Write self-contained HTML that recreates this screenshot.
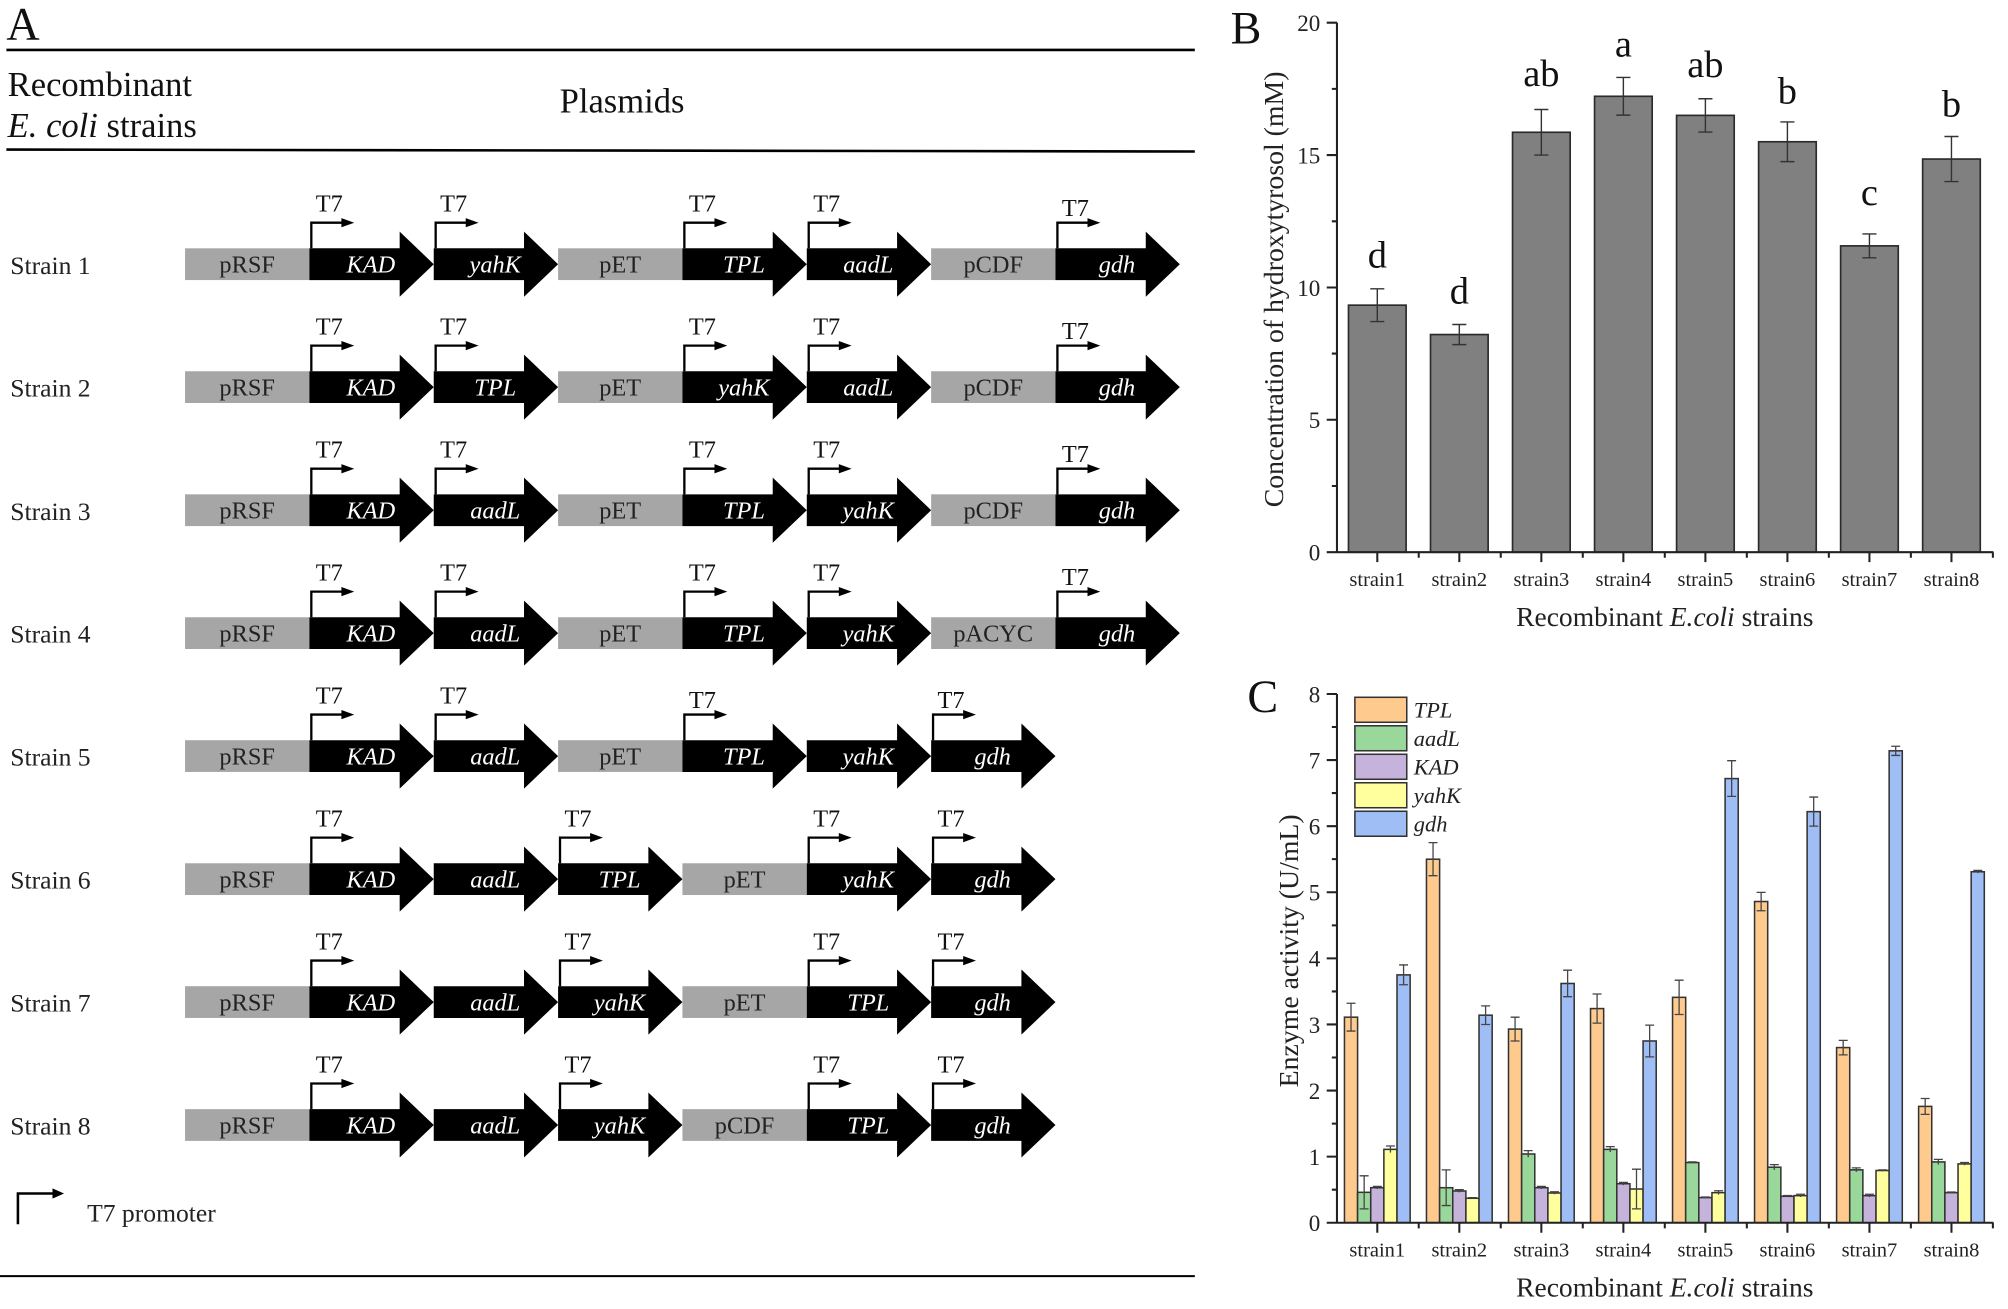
<!DOCTYPE html>
<html><head><meta charset="utf-8">
<style>
html,body{margin:0;padding:0;background:#fff;overflow:hidden;}
svg{display:block;}
text{font-family:"Liberation Serif","Times New Roman",serif;}
.pl{font-size:19px;fill:#222;text-anchor:middle;}
.gn{font-size:19px;fill:#fff;font-style:italic;text-anchor:middle;}
.t7{font-size:19px;fill:#111;}
.sl{font-size:20px;fill:#222;}
.tk{font-size:18px;fill:#222;text-anchor:end;}
.xl{font-size:16px;fill:#222;text-anchor:middle;}
.lt{font-size:30px;fill:#111;text-anchor:middle;}
.lg{font-size:17.5px;fill:#222;font-style:italic;}
</style></head>
<body>
<svg width="2008" height="1309" viewBox="0 0 1568 1022.17" preserveAspectRatio="none" xmlns="http://www.w3.org/2000/svg">
<defs>
<path id="arr" d="M0,-12.4 H70.5 V-25.4 L97.1,0 L70.5,25.4 V12.4 H0 Z" fill="#000"/>
<rect id="gry" x="0" y="-12.4" width="97.1" height="24.8" fill="#a6a6a6"/>
<g id="pro"><path d="M1.5,-12.4 V-32.4 H26" stroke="#000" stroke-width="1.8" fill="none"/><path d="M25,-36 L35,-32.4 L25,-28.8Z" fill="#000"/></g>
</defs>

<!-- PANEL A -->
<text x="5" y="31" font-size="36" fill="#111">A</text>
<line x1="5" y1="39" x2="933" y2="39" stroke="#000" stroke-width="2"/>
<text x="6" y="75" font-size="27" fill="#111">Recombinant</text>
<text x="6" y="107" font-size="27" fill="#111"><tspan font-style="italic">E. coli</tspan> strains</text>
<text x="437" y="88" font-size="27" fill="#111">Plasmids</text>
<line x1="5" y1="116.8" x2="933" y2="118.3" stroke="#000" stroke-width="2"/>

<!-- Row 1 -->
<g transform="translate(0,206.3)">
<text x="8" y="7.5" class="sl">Strain 1</text>
<use href="#gry" x="144.5"/><text x="193" y="6.5" class="pl">pRSF</text>
<use href="#arr" x="241.6"/><use href="#pro" x="241.6"/><text x="289.6" y="6.5" class="gn">KAD</text><text x="246.6" y="-41" class="t7">T7</text>
<use href="#arr" x="338.7"/><use href="#pro" x="338.7"/><text x="386.7" y="6.5" class="gn">yahK</text><text x="343.7" y="-41" class="t7">T7</text>
<use href="#gry" x="435.8"/><text x="484.3" y="6.5" class="pl">pET</text>
<use href="#arr" x="532.9"/><use href="#pro" x="532.9"/><text x="580.9" y="6.5" class="gn">TPL</text><text x="537.9" y="-41" class="t7">T7</text>
<use href="#arr" x="630"/><use href="#pro" x="630"/><text x="678" y="6.5" class="gn">aadL</text><text x="635" y="-41" class="t7">T7</text>
<use href="#gry" x="727.1"/><text x="775.6" y="6.5" class="pl">pCDF</text>
<use href="#arr" x="824.2"/><use href="#pro" x="824.2"/><text x="872.2" y="6.5" class="gn">gdh</text><text x="829.2" y="-37.5" class="t7">T7</text>
</g>

<!-- Row 2 -->
<g transform="translate(0,302.3)">
<text x="8" y="7.5" class="sl">Strain 2</text>
<use href="#gry" x="144.5"/><text x="193" y="6.5" class="pl">pRSF</text>
<use href="#arr" x="241.6"/><use href="#pro" x="241.6"/><text x="289.6" y="6.5" class="gn">KAD</text><text x="246.6" y="-41" class="t7">T7</text>
<use href="#arr" x="338.7"/><use href="#pro" x="338.7"/><text x="386.7" y="6.5" class="gn">TPL</text><text x="343.7" y="-41" class="t7">T7</text>
<use href="#gry" x="435.8"/><text x="484.3" y="6.5" class="pl">pET</text>
<use href="#arr" x="532.9"/><use href="#pro" x="532.9"/><text x="580.9" y="6.5" class="gn">yahK</text><text x="537.9" y="-41" class="t7">T7</text>
<use href="#arr" x="630"/><use href="#pro" x="630"/><text x="678" y="6.5" class="gn">aadL</text><text x="635" y="-41" class="t7">T7</text>
<use href="#gry" x="727.1"/><text x="775.6" y="6.5" class="pl">pCDF</text>
<use href="#arr" x="824.2"/><use href="#pro" x="824.2"/><text x="872.2" y="6.5" class="gn">gdh</text><text x="829.2" y="-37.5" class="t7">T7</text>
</g>

<!-- Row 3 -->
<g transform="translate(0,398.4)">
<text x="8" y="7.5" class="sl">Strain 3</text>
<use href="#gry" x="144.5"/><text x="193" y="6.5" class="pl">pRSF</text>
<use href="#arr" x="241.6"/><use href="#pro" x="241.6"/><text x="289.6" y="6.5" class="gn">KAD</text><text x="246.6" y="-41" class="t7">T7</text>
<use href="#arr" x="338.7"/><use href="#pro" x="338.7"/><text x="386.7" y="6.5" class="gn">aadL</text><text x="343.7" y="-41" class="t7">T7</text>
<use href="#gry" x="435.8"/><text x="484.3" y="6.5" class="pl">pET</text>
<use href="#arr" x="532.9"/><use href="#pro" x="532.9"/><text x="580.9" y="6.5" class="gn">TPL</text><text x="537.9" y="-41" class="t7">T7</text>
<use href="#arr" x="630"/><use href="#pro" x="630"/><text x="678" y="6.5" class="gn">yahK</text><text x="635" y="-41" class="t7">T7</text>
<use href="#gry" x="727.1"/><text x="775.6" y="6.5" class="pl">pCDF</text>
<use href="#arr" x="824.2"/><use href="#pro" x="824.2"/><text x="872.2" y="6.5" class="gn">gdh</text><text x="829.2" y="-37.5" class="t7">T7</text>
</g>

<!-- Row 4 -->
<g transform="translate(0,494.4)">
<text x="8" y="7.5" class="sl">Strain 4</text>
<use href="#gry" x="144.5"/><text x="193" y="6.5" class="pl">pRSF</text>
<use href="#arr" x="241.6"/><use href="#pro" x="241.6"/><text x="289.6" y="6.5" class="gn">KAD</text><text x="246.6" y="-41" class="t7">T7</text>
<use href="#arr" x="338.7"/><use href="#pro" x="338.7"/><text x="386.7" y="6.5" class="gn">aadL</text><text x="343.7" y="-41" class="t7">T7</text>
<use href="#gry" x="435.8"/><text x="484.3" y="6.5" class="pl">pET</text>
<use href="#arr" x="532.9"/><use href="#pro" x="532.9"/><text x="580.9" y="6.5" class="gn">TPL</text><text x="537.9" y="-41" class="t7">T7</text>
<use href="#arr" x="630"/><use href="#pro" x="630"/><text x="678" y="6.5" class="gn">yahK</text><text x="635" y="-41" class="t7">T7</text>
<use href="#gry" x="727.1"/><text x="775.6" y="6.5" class="pl">pACYC</text>
<use href="#arr" x="824.2"/><use href="#pro" x="824.2"/><text x="872.2" y="6.5" class="gn">gdh</text><text x="829.2" y="-37.5" class="t7">T7</text>
</g>

<!-- Row 5 -->
<g transform="translate(0,590.4)">
<text x="8" y="7.5" class="sl">Strain 5</text>
<use href="#gry" x="144.5"/><text x="193" y="6.5" class="pl">pRSF</text>
<use href="#arr" x="241.6"/><use href="#pro" x="241.6"/><text x="289.6" y="6.5" class="gn">KAD</text><text x="246.6" y="-41" class="t7">T7</text>
<use href="#arr" x="338.7"/><use href="#pro" x="338.7"/><text x="386.7" y="6.5" class="gn">aadL</text><text x="343.7" y="-41" class="t7">T7</text>
<use href="#gry" x="435.8"/><text x="484.3" y="6.5" class="pl">pET</text>
<use href="#arr" x="532.9"/><use href="#pro" x="532.9"/><text x="580.9" y="6.5" class="gn">TPL</text><text x="537.9" y="-37.5" class="t7">T7</text>
<use href="#arr" x="630"/><text x="678" y="6.5" class="gn">yahK</text>
<use href="#arr" x="727.1"/><use href="#pro" x="727.1"/><text x="775.1" y="6.5" class="gn">gdh</text><text x="732.1" y="-37.5" class="t7">T7</text>
</g>

<!-- Row 6 -->
<g transform="translate(0,686.5)">
<text x="8" y="7.5" class="sl">Strain 6</text>
<use href="#gry" x="144.5"/><text x="193" y="6.5" class="pl">pRSF</text>
<use href="#arr" x="241.6"/><use href="#pro" x="241.6"/><text x="289.6" y="6.5" class="gn">KAD</text><text x="246.6" y="-41" class="t7">T7</text>
<use href="#arr" x="338.7"/><text x="386.7" y="6.5" class="gn">aadL</text>
<use href="#arr" x="435.8"/><use href="#pro" x="435.8"/><text x="483.8" y="6.5" class="gn">TPL</text><text x="440.8" y="-41" class="t7">T7</text>
<use href="#gry" x="532.9"/><text x="581.4" y="6.5" class="pl">pET</text>
<use href="#arr" x="630"/><use href="#pro" x="630"/><text x="678" y="6.5" class="gn">yahK</text><text x="635" y="-41" class="t7">T7</text>
<use href="#arr" x="727.1"/><use href="#pro" x="727.1"/><text x="775.1" y="6.5" class="gn">gdh</text><text x="732.1" y="-41" class="t7">T7</text>
</g>

<!-- Row 7 -->
<g transform="translate(0,782.5)">
<text x="8" y="7.5" class="sl">Strain 7</text>
<use href="#gry" x="144.5"/><text x="193" y="6.5" class="pl">pRSF</text>
<use href="#arr" x="241.6"/><use href="#pro" x="241.6"/><text x="289.6" y="6.5" class="gn">KAD</text><text x="246.6" y="-41" class="t7">T7</text>
<use href="#arr" x="338.7"/><text x="386.7" y="6.5" class="gn">aadL</text>
<use href="#arr" x="435.8"/><use href="#pro" x="435.8"/><text x="483.8" y="6.5" class="gn">yahK</text><text x="440.8" y="-41" class="t7">T7</text>
<use href="#gry" x="532.9"/><text x="581.4" y="6.5" class="pl">pET</text>
<use href="#arr" x="630"/><use href="#pro" x="630"/><text x="678" y="6.5" class="gn">TPL</text><text x="635" y="-41" class="t7">T7</text>
<use href="#arr" x="727.1"/><use href="#pro" x="727.1"/><text x="775.1" y="6.5" class="gn">gdh</text><text x="732.1" y="-41" class="t7">T7</text>
</g>

<!-- Row 8 -->
<g transform="translate(0,878.5)">
<text x="8" y="7.5" class="sl">Strain 8</text>
<use href="#gry" x="144.5"/><text x="193" y="6.5" class="pl">pRSF</text>
<use href="#arr" x="241.6"/><use href="#pro" x="241.6"/><text x="289.6" y="6.5" class="gn">KAD</text><text x="246.6" y="-41" class="t7">T7</text>
<use href="#arr" x="338.7"/><text x="386.7" y="6.5" class="gn">aadL</text>
<use href="#arr" x="435.8"/><use href="#pro" x="435.8"/><text x="483.8" y="6.5" class="gn">yahK</text><text x="440.8" y="-41" class="t7">T7</text>
<use href="#gry" x="532.9"/><text x="581.4" y="6.5" class="pl">pCDF</text>
<use href="#arr" x="630"/><use href="#pro" x="630"/><text x="678" y="6.5" class="gn">TPL</text><text x="635" y="-41" class="t7">T7</text>
<use href="#arr" x="727.1"/><use href="#pro" x="727.1"/><text x="775.1" y="6.5" class="gn">gdh</text><text x="732.1" y="-41" class="t7">T7</text>
</g>

<!-- legend A -->
<path d="M14,956 V932 H42" stroke="#000" stroke-width="2" fill="none"/>
<path d="M41,928 L50,932 L41,936Z" fill="#000"/>
<text x="68" y="954" font-size="20" fill="#222">T7 promoter</text>
<line x1="0" y1="996.5" x2="933" y2="996.5" stroke="#000" stroke-width="1.6"/>

<!-- PANEL B -->
<text x="961" y="34" font-size="36" fill="#111">B</text>
<g fill="#808080" stroke="#2b2b2b" stroke-width="1.3">
<rect x="1053" y="238.3" width="45" height="192.9"/>
<rect x="1117.05" y="261.25" width="45" height="169.95"/>
<rect x="1181.1" y="103.3" width="45" height="327.9"/>
<rect x="1245.15" y="75.2" width="45" height="356"/>
<rect x="1309.2" y="90.1" width="45" height="341.1"/>
<rect x="1373.25" y="110.7" width="45" height="320.5"/>
<rect x="1437.3" y="192" width="45" height="239.2"/>
<rect x="1501.35" y="124.2" width="45" height="307"/>
</g>
<path stroke="#333" stroke-width="1.1" fill="none" d="
M1075.5,225.5V251.1M1070,225.5H1081M1070,251.1H1081
M1139.55,253.4V269.1M1134.05,253.4H1145.05M1134.05,269.1H1145.05
M1203.6,85.5V121.1M1198.1,85.5H1209.1M1198.1,121.1H1209.1
M1267.65,60.5V89.9M1262.15,60.5H1273.15M1262.15,89.9H1273.15
M1331.7,77.1V103.1M1326.2,77.1H1337.2M1326.2,103.1H1337.2
M1395.75,95.2V126.2M1390.25,95.2H1401.25M1390.25,126.2H1401.25
M1459.8,182.7V201.3M1454.3,182.7H1465.3M1454.3,201.3H1465.3
M1523.85,106.6V141.8M1518.35,106.6H1529.35M1518.35,141.8H1529.35"/>
<text x="1075.5" y="209" class="lt">d</text>
<text x="1139.55" y="237" class="lt">d</text>
<text x="1203.6" y="67" class="lt">ab</text>
<text x="1267.65" y="44" class="lt">a</text>
<text x="1331.7" y="60" class="lt">ab</text>
<text x="1395.75" y="81" class="lt">b</text>
<text x="1459.8" y="160" class="lt">c</text>
<text x="1523.85" y="91" class="lt">b</text>
<!-- axes B -->
<path stroke="#222" stroke-width="1.6" fill="none" d="M1044,17.7V431.2H1556.6
M1036,431.2H1044M1036,327.8H1044M1036,224.5H1044M1036,121.1H1044M1036,17.7H1044
M1040,379.5H1044M1040,276.1H1044M1040,172.8H1044M1040,69.4H1044
M1075.5,431.2V439M1139.55,431.2V439M1203.6,431.2V439M1267.65,431.2V439M1331.7,431.2V439M1395.75,431.2V439M1459.8,431.2V439M1523.85,431.2V439
M1107.85,431.2V435.5M1171.9,431.2V435.5M1235.95,431.2V435.5M1300,431.2V435.5M1364.05,431.2V435.5M1428.1,431.2V435.5M1492.15,431.2V435.5M1556.2,431.2V435.5"/>
<text x="1031" y="437.7" class="tk">0</text>
<text x="1031" y="334.3" class="tk">5</text>
<text x="1031" y="231" class="tk">10</text>
<text x="1031" y="127.6" class="tk">15</text>
<text x="1031" y="24.2" class="tk">20</text>
<text x="1075.5" y="457.7" class="xl">strain1</text>
<text x="1139.55" y="457.7" class="xl">strain2</text>
<text x="1203.6" y="457.7" class="xl">strain3</text>
<text x="1267.65" y="457.7" class="xl">strain4</text>
<text x="1331.7" y="457.7" class="xl">strain5</text>
<text x="1395.75" y="457.7" class="xl">strain6</text>
<text x="1459.8" y="457.7" class="xl">strain7</text>
<text x="1523.85" y="457.7" class="xl">strain8</text>
<text x="1300" y="489" font-size="21.5" fill="#222" text-anchor="middle">Recombinant <tspan font-style="italic">E.coli</tspan> strains</text>
<text transform="translate(1002,226) rotate(-90)" font-size="21.7" fill="#222" text-anchor="middle">Concentration of hydroxytyrosol (mM)</text>

<!-- PANEL C -->
<text x="974" y="556" font-size="36" fill="#111">C</text>
<g stroke="#333" stroke-width="1.2">
<g fill="#FFCA8E">
<rect x="1049.85" y="794.29" width="10.26" height="160.51"/>
<rect x="1113.9" y="670.94" width="10.26" height="283.86"/>
<rect x="1177.95" y="803.58" width="10.26" height="151.22"/>
<rect x="1242" y="787.58" width="10.26" height="167.22"/>
<rect x="1306.05" y="778.81" width="10.26" height="175.99"/>
<rect x="1370.1" y="703.98" width="10.26" height="250.82"/>
<rect x="1434.15" y="818.03" width="10.26" height="136.77"/>
<rect x="1498.2" y="863.97" width="10.26" height="90.83"/>
</g>
<g fill="#9AD79A">
<rect x="1060.11" y="931.06" width="10.26" height="23.74"/>
<rect x="1124.16" y="927.45" width="10.26" height="27.35"/>
<rect x="1188.21" y="901.13" width="10.26" height="53.67"/>
<rect x="1252.26" y="897.51" width="10.26" height="57.29"/>
<rect x="1316.31" y="907.83" width="10.26" height="46.97"/>
<rect x="1380.36" y="911.45" width="10.26" height="43.35"/>
<rect x="1444.41" y="913.51" width="10.26" height="41.29"/>
<rect x="1508.46" y="907.32" width="10.26" height="47.48"/>
</g>
<g fill="#C5B3DB">
<rect x="1070.37" y="927.45" width="10.26" height="27.35"/>
<rect x="1134.42" y="930.03" width="10.26" height="24.77"/>
<rect x="1198.47" y="927.45" width="10.26" height="27.35"/>
<rect x="1262.52" y="924.35" width="10.26" height="30.45"/>
<rect x="1326.57" y="935.19" width="10.26" height="19.61"/>
<rect x="1390.62" y="934.16" width="10.26" height="20.64"/>
<rect x="1454.67" y="933.64" width="10.26" height="21.16"/>
<rect x="1518.72" y="931.32" width="10.26" height="23.48"/>
</g>
<g fill="#FFFF9E">
<rect x="1080.63" y="897.51" width="10.26" height="57.29"/>
<rect x="1144.68" y="935.7" width="10.26" height="19.1"/>
<rect x="1208.73" y="931.58" width="10.26" height="23.22"/>
<rect x="1272.78" y="928.48" width="10.26" height="26.32"/>
<rect x="1336.83" y="931.32" width="10.26" height="23.48"/>
<rect x="1400.88" y="933.64" width="10.26" height="21.16"/>
<rect x="1464.93" y="914.03" width="10.26" height="40.77"/>
<rect x="1528.98" y="908.87" width="10.26" height="45.93"/>
</g>
<g fill="#9EBEF5">
<rect x="1090.89" y="761.26" width="10.26" height="193.54"/>
<rect x="1154.94" y="792.74" width="10.26" height="162.06"/>
<rect x="1218.99" y="767.97" width="10.26" height="186.83"/>
<rect x="1283.04" y="812.87" width="10.26" height="141.93"/>
<rect x="1347.09" y="607.98" width="10.26" height="346.82"/>
<rect x="1411.14" y="633.79" width="10.26" height="321.01"/>
<rect x="1475.19" y="586.3" width="10.26" height="368.5"/>
<rect x="1539.24" y="680.75" width="10.26" height="274.05"/>
</g>
</g>
<path stroke="#444" stroke-width="1" fill="none" d="
M1054.98,783.45V805.13M1051.5,783.45H1058.5M1051.5,805.13H1058.5
M1065.24,918.16V943.96M1061.7,918.16H1068.7M1061.7,943.96H1068.7
M1075.5,926.4V928.5M1072,926.4H1079
M1085.76,894.9V900.1M1082.3,894.9H1089.3
M1096.02,753.5V769M1092.5,753.5H1099.5M1092.5,769H1099.5
M1119.03,658V683.8M1115.5,658H1122.5M1115.5,683.8H1122.5
M1129.29,913.5V941.4M1125.8,913.5H1132.8M1125.8,941.4H1132.8
M1139.55,929V931.1M1136,929H1143
M1149.81,935.2V936.2M1146.3,935.2H1153.3
M1160.07,785.5V800M1156.6,785.5H1163.6M1156.6,800H1163.6
M1183.08,794.3V812.9M1179.6,794.3H1186.6M1179.6,812.9H1186.6
M1193.34,898.5V903.7M1189.8,898.5H1196.8
M1203.6,926.4V928.5M1200.1,926.4H1207.1
M1213.86,930.6V932.6M1210.4,930.6H1217.4
M1224.12,757.6V778.3M1220.6,757.6H1227.6M1220.6,778.3H1227.6
M1247.13,776.2V798.9M1243.6,776.2H1250.6M1243.6,798.9H1250.6
M1257.39,895.4V899.6M1253.9,895.4H1260.9
M1267.65,923.3V925.4M1264.2,923.3H1271.2
M1277.91,913V944M1274.4,913H1281.4M1274.4,944H1281.4
M1288.17,800.5V825.3M1284.7,800.5H1291.7M1284.7,825.3H1291.7
M1311.18,765.4V792.2M1307.7,765.4H1314.7M1307.7,792.2H1314.7
M1321.44,907.3V908.3M1317.9,907.3H1324.9
M1331.7,934.7V935.7M1328.2,934.7H1335.2
M1341.96,929.8V932.9M1338.5,929.8H1345.5
M1352.22,594V621.9M1348.7,594H1355.7M1348.7,621.9H1355.7
M1375.23,696.8V711.2M1371.7,696.8H1378.7M1371.7,711.2H1378.7
M1385.49,909.4V913.5M1382,909.4H1389
M1395.75,933.6V934.7M1392.2,933.6H1399.2
M1406.01,932.6V934.7M1402.5,932.6H1409.5
M1416.27,622.4V645.1M1412.8,622.4H1419.8M1412.8,645.1H1419.8
M1439.28,812.4V823.7M1435.8,812.4H1442.8M1435.8,823.7H1442.8
M1449.54,912V915.1M1446,912H1453
M1459.8,932.6V934.7M1456.3,932.6H1463.3
M1470.06,913.5V914.5M1466.6,913.5H1473.6
M1480.32,582.7V589.9M1476.8,582.7H1483.8M1476.8,589.9H1483.8
M1503.33,857.8V870.2M1499.8,857.8H1506.8M1499.8,870.2H1506.8
M1513.59,905.3V909.4M1510.1,905.3H1517.1
M1523.85,930.8V931.8M1520.3,930.8H1527.3
M1534.11,907.8V909.9M1530.6,907.8H1537.6
M1544.37,679.7V681.8M1540.9,679.7H1547.9"/>
<!-- legend C -->
<g stroke="#333" stroke-width="1.2">
<rect x="1058" y="544.5" width="40.5" height="19.5" fill="#FFCA8E"/>
<rect x="1058" y="566.75" width="40.5" height="19.5" fill="#9AD79A"/>
<rect x="1058" y="589" width="40.5" height="19.5" fill="#C5B3DB"/>
<rect x="1058" y="611.25" width="40.5" height="19.5" fill="#FFFF9E"/>
<rect x="1058" y="633.5" width="40.5" height="19.5" fill="#9EBEF5"/>
</g>
<text x="1104" y="560.2" class="lg">TPL</text>
<text x="1104" y="582.45" class="lg">aadL</text>
<text x="1104" y="604.7" class="lg">KAD</text>
<text x="1104" y="626.95" class="lg">yahK</text>
<text x="1104" y="649.2" class="lg">gdh</text>
<!-- axes C -->
<path stroke="#222" stroke-width="1.6" fill="none" d="M1044,541.92V954.8H1556.6
M1036,954.8H1044M1036,903.19H1044M1036,851.58H1044M1036,799.97H1044M1036,748.36H1044M1036,696.75H1044M1036,645.14H1044M1036,593.53H1044M1036,541.92H1044
M1040,929H1044M1040,877.4H1044M1040,825.8H1044M1040,774.2H1044M1040,722.6H1044M1040,670.9H1044M1040,619.3H1044M1040,567.7H1044
M1075.5,954.8V962.6M1139.55,954.8V962.6M1203.6,954.8V962.6M1267.65,954.8V962.6M1331.7,954.8V962.6M1395.75,954.8V962.6M1459.8,954.8V962.6M1523.85,954.8V962.6
M1107.85,954.8V959.2M1171.9,954.8V959.2M1235.95,954.8V959.2M1300,954.8V959.2M1364.05,954.8V959.2M1428.1,954.8V959.2M1492.15,954.8V959.2M1556.2,954.8V959.2"/>
<text x="1031" y="961.3" class="tk">0</text>
<text x="1031" y="909.7" class="tk">1</text>
<text x="1031" y="858.1" class="tk">2</text>
<text x="1031" y="806.5" class="tk">3</text>
<text x="1031" y="754.9" class="tk">4</text>
<text x="1031" y="703.3" class="tk">5</text>
<text x="1031" y="651.6" class="tk">6</text>
<text x="1031" y="600" class="tk">7</text>
<text x="1031" y="548.4" class="tk">8</text>
<text x="1075.5" y="981.3" class="xl">strain1</text>
<text x="1139.55" y="981.3" class="xl">strain2</text>
<text x="1203.6" y="981.3" class="xl">strain3</text>
<text x="1267.65" y="981.3" class="xl">strain4</text>
<text x="1331.7" y="981.3" class="xl">strain5</text>
<text x="1395.75" y="981.3" class="xl">strain6</text>
<text x="1459.8" y="981.3" class="xl">strain7</text>
<text x="1523.85" y="981.3" class="xl">strain8</text>
<text x="1300" y="1012.5" font-size="21.5" fill="#222" text-anchor="middle">Recombinant <tspan font-style="italic">E.coli</tspan> strains</text>
<text transform="translate(1013.5,742.5) rotate(-90)" font-size="21.7" fill="#222" text-anchor="middle">Enzyme activity (U/mL)</text>
</svg>
</body></html>
